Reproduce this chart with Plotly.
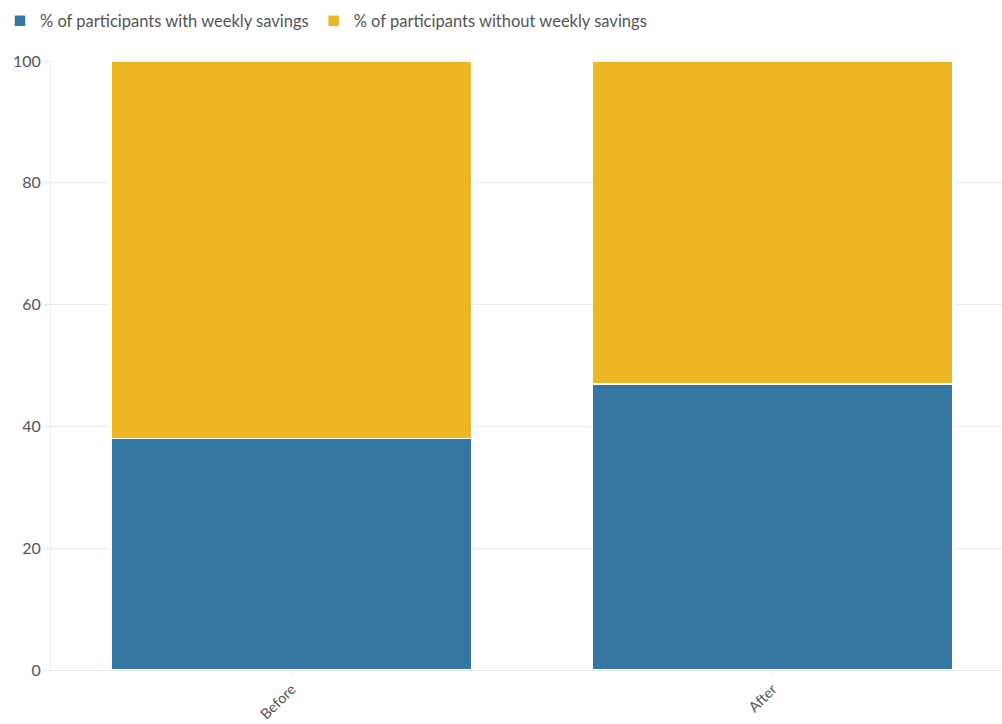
import plotly.graph_objects as go

categories = ["Before", "After"]
with_savings = [38, 47]
without_savings = [62, 53]
series_names = ["% of participants with weekly savings", "% of participants without weekly savings"]
y_ticks = [0, 20, 40, 60, 80, 100]

fig = go.Figure()
fig.add_trace(go.Bar(x=categories, y=with_savings, name=series_names[0],
                     marker=dict(color="rgba(30,104,150,0.9)", line=dict(color="white", width=1.5)),
                     width=0.75))
fig.add_trace(go.Bar(x=categories, y=without_savings, name=series_names[1],
                     marker=dict(color="rgba(236,174,12,0.9)", line=dict(color="white", width=1.5)),
                     width=0.75))

fig.update_layout(
    barmode="stack",
    width=1002, height=724,
    margin=dict(l=51, r=0, t=61, b=54),
    paper_bgcolor="white", plot_bgcolor="white",
    font=dict(family="Lato, 'Noto Sans', sans-serif", size=16, color="#555"),
    legend=dict(orientation="h", x=-0.01, xref="container", xanchor="left",
                y=0.995, yref="container", yanchor="top", traceorder="normal",
                font=dict(size=16.5, color="#555"), itemwidth=30, tracegroupgap=0),
    showlegend=True,
    bargap=0.25,
)
fig.update_xaxes(range=[-0.5, 1.477], showgrid=False, showline=True, linecolor="#e6e6e6",
                 ticks="outside", ticklen=4, tickcolor="#e6e6e6", tickangle=-45,
                 automargin=False, tickfont=dict(size=14.5, color="#555"))
fig.update_yaxes(range=[0, 100], tickvals=y_ticks, showgrid=True, gridcolor="#ececec",
                 showline=True, linecolor="#ececec", ticks="outside", ticklen=6, tickcolor="#e6e6e6",
                 automargin=False, zeroline=False, tickfont=dict(size=16, color="#555"))

fig.write_html("out.html")
